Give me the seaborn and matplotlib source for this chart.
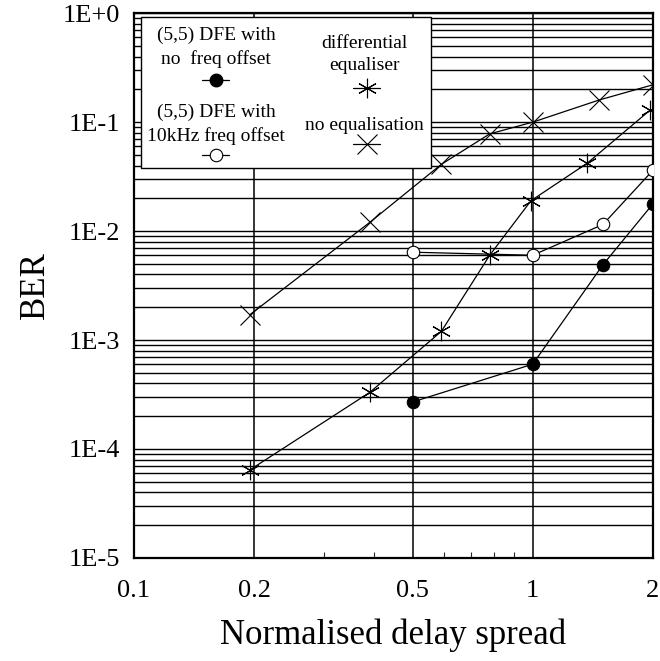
import matplotlib
matplotlib.use("Agg")
import matplotlib.pyplot as plt
import matplotlib.ticker as mticker
from matplotlib.lines import Line2D
from matplotlib.patches import Rectangle
import numpy as np
import seaborn as sns
import pandas as pd

# values
dfe_x = [0.5, 1.0, 1.5, 2.0]
dfe_ber = [2.7e-4, 6.0e-4, 4.9e-3, 1.77e-2]

dfe_off_x = [0.5, 1.0, 1.5, 2.0]
dfe_off_ber = [6.4e-3, 6.0e-3, 1.15e-2, 3.6e-2]

diff_x = [0.195, 0.39, 0.59, 0.78, 0.99, 1.37, 1.97]
diff_ber = [6.4e-5, 3.3e-4, 1.2e-3, 6.0e-3, 1.9e-2, 4.2e-2, 1.29e-1]

noeq_x = [0.195, 0.39, 0.59, 0.78, 1.0, 1.47, 2.0]
noeq_ber = [1.7e-3, 1.2e-2, 4.1e-2, 7.8e-2, 1.0e-1, 1.6e-1, 2.2e-1]

x_ticks = [0.1, 0.2, 0.5, 1, 2]
x_ticklabels = ["0.1", "0.2", "0.5", "1", "2"]
y_ticks = [1e0, 1e-1, 1e-2, 1e-3, 1e-4, 1e-5]
y_ticklabels = ["1E+0", "1E-1", "1E-2", "1E-3", "1E-4", "1E-5"]

sns.set_style("white")
plt.rcParams['font.family'] = ['Liberation Serif', 'DejaVu Serif']

fig = plt.figure(figsize=(6.6, 6.61), dpi=100)
ax = fig.add_axes([0.203, 0.156, 0.786, 0.824])

asterisk = (6, 2, 0)
lw = 0.9

sns.lineplot(x=dfe_x, y=dfe_ber, ax=ax, color="black", lw=lw, marker="o",
             markersize=9, markerfacecolor="black", markeredgecolor="black", zorder=5)
sns.lineplot(x=dfe_off_x, y=dfe_off_ber, ax=ax, color="black", lw=lw, marker="o",
             markersize=9, markerfacecolor="white", markeredgecolor="black",
             markeredgewidth=0.8, zorder=5)
sns.lineplot(x=diff_x, y=diff_ber, ax=ax, color="black", lw=lw, marker=asterisk,
             markersize=14, markeredgewidth=0.8, markeredgecolor="black", zorder=5)
sns.lineplot(x=noeq_x, y=noeq_ber, ax=ax, color="black", lw=lw, marker="x",
             markersize=14, markeredgewidth=0.8, markeredgecolor="black", zorder=5)

ax.set_xscale("log")
ax.set_yscale("log")
ax.set_xlim(0.1, 2)
ax.set_ylim(1e-5, 1)

ax.xaxis.set_major_locator(mticker.FixedLocator(x_ticks))
ax.xaxis.set_major_formatter(mticker.FixedFormatter(x_ticklabels))
ax.xaxis.set_minor_locator(mticker.FixedLocator([0.3, 0.4, 0.6, 0.7, 0.8, 0.9]))
ax.xaxis.set_minor_formatter(mticker.NullFormatter())
ax.yaxis.set_major_locator(mticker.FixedLocator(y_ticks))
ax.yaxis.set_major_formatter(mticker.FixedFormatter(y_ticklabels))
ax.yaxis.set_minor_locator(mticker.LogLocator(base=10, subs=np.arange(2, 10), numticks=20))
ax.yaxis.set_minor_formatter(mticker.NullFormatter())

ax.tick_params(axis="x", which="major", length=0, pad=16, labelsize=19, colors="black")
ax.tick_params(axis="x", which="minor", length=4, width=0.8, direction="in", bottom=True)
ax.tick_params(axis="y", which="major", length=0, pad=10, labelsize=19, colors="black")
ax.tick_params(axis="y", which="minor", length=0)

ax.grid(True, which="major", axis="x", color="black", lw=1.1)
ax.grid(True, which="both", axis="y", color="black", lw=1.0)

for s in ax.spines.values():
    s.set_color("black")
    s.set_linewidth(1.6)

ax.set_xlabel("Normalised delay spread", fontsize=25, labelpad=12, color="black")
ax.set_ylabel("BER", fontsize=25, labelpad=8, color="black")

# legend panel, text above each key like the original
tr = ax.transAxes
ax.add_patch(Rectangle((0.0135, 0.716), 0.559, 0.277, transform=tr,
                       facecolor="white", edgecolor="black", lw=1.0, zorder=10))
fs = 14
kw = dict(transform=tr, ha="center", va="center", fontsize=fs, zorder=11,
          linespacing=1.4, color="black")
ax.text(0.158, 0.937, "(5,5) DFE with\nno  freq offset", **kw)
ax.text(0.158, 0.796, "(5,5) DFE with\n10kHz freq offset", **kw)
ax.text(0.445, 0.924, "differential\nequaliser", **kw)
ax.text(0.445, 0.793, "no equalisation", **kw)

def key(xc, yc, **mk):
    ax.add_line(Line2D([xc - 0.026, xc + 0.026], [yc, yc], transform=tr,
                       color="black", lw=lw, zorder=11))
    ax.add_line(Line2D([xc], [yc], transform=tr, zorder=12, color="black", **mk))

key(0.158, 0.877, marker="o", markersize=9, markerfacecolor="black", markeredgecolor="black")
key(0.158, 0.739, marker="o", markersize=9, markerfacecolor="white",
    markeredgecolor="black", markeredgewidth=0.8)
key(0.449, 0.862, marker=asterisk, markersize=14, markeredgewidth=0.8)
key(0.449, 0.760, marker="x", markersize=14, markeredgewidth=0.8)

fig.savefig("out.png", dpi=100, facecolor="white")
